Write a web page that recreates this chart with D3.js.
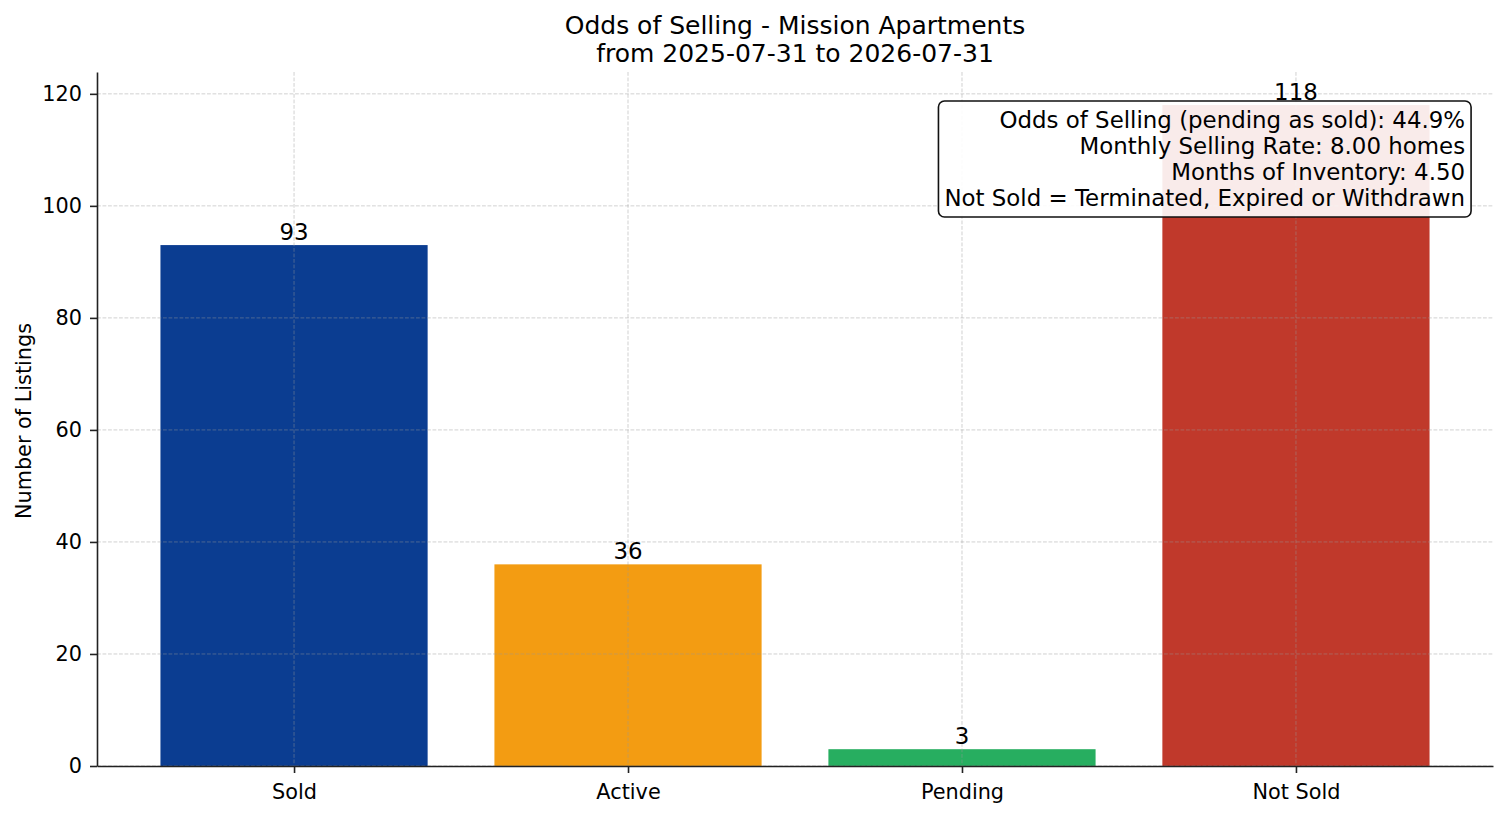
<!DOCTYPE html>
<html>
<head>
<meta charset="utf-8">
<script src="https://cdn.jsdelivr.net/npm/d3@7"></script>
<style>
  body { margin: 0; background: #fff; }
  svg { display: block; font-family: "DejaVu Sans", sans-serif; }
</style>
</head>
<body>
<svg></svg>
<script>
// chart data
var categories = ["Sold", "Active", "Pending", "Not Sold"];
var counts = [93, 36, 3, 118];
var barColors = ["#0b3d91", "#f39c12", "#27ae60", "#c0392b"];
var yTicks = [0, 20, 40, 60, 80, 100, 120];
var titleLines = ["Odds of Selling - Mission Apartments", "from 2025-07-31 to 2026-07-31"];
var infoLines = [
  "Odds of Selling (pending as sold): 44.9%",
  "Monthly Selling Rate: 8.00 homes",
  "Months of Inventory: 4.50",
  "Not Sold = Terminated, Expired or Withdrawn"
];

var width = 1507, height = 816;
var margin = {top: 72, right: 14, bottom: 50, left: 97};
var graphWidth = width - margin.left - margin.right;
var graphHeight = height - margin.top - margin.bottom;

var svg = d3.select("svg")
  .attr("width", width)
  .attr("height", height);

var graph = svg.append("g")
  .attr("transform", "translate(" + margin.left + "," + margin.top + ")");

// bars sit at 0..n-1, width 0.8, plus 5% margins like matplotlib
var x = d3.scaleLinear()
  .domain([-0.4 - 0.19, categories.length - 1 + 0.4 + 0.19])
  .range([0, graphWidth]);

var y = d3.scaleLinear()
  .domain([0, d3.max(counts) * 1.05])
  .range([graphHeight, 0]);

// bars
graph.selectAll("rect.bar")
  .data(counts)
  .enter()
  .append("rect")
  .attr("class", "bar")
  .attr("x", (d, i) => x(i - 0.4))
  .attr("width", (d, i) => x(i + 0.4) - x(i - 0.4))
  .attr("y", d => y(d))
  .attr("height", d => graphHeight - y(d))
  .attr("fill", (d, i) => barColors[i]);

// grid on top of bars
var grid = graph.append("g")
  .attr("stroke", "#999")
  .attr("stroke-opacity", 0.45)
  .attr("stroke-width", 1)
  .attr("stroke-dasharray", "3.8,1.7");

grid.selectAll("line.h")
  .data(yTicks)
  .enter()
  .append("line")
  .attr("x1", 0)
  .attr("x2", graphWidth)
  .attr("y1", d => y(d))
  .attr("y2", d => y(d));

grid.selectAll("line.v")
  .data(categories)
  .enter()
  .append("line")
  .attr("x1", (d, i) => x(i))
  .attr("x2", (d, i) => x(i))
  .attr("y1", 0)
  .attr("y2", graphHeight);

// value labels
graph.selectAll("text.val")
  .data(counts)
  .enter()
  .append("text")
  .attr("class", "val")
  .attr("x", (d, i) => x(i))
  .attr("y", d => y(d) - 5)
  .attr("text-anchor", "middle")
  .attr("font-size", 22.9)
  .attr("fill", "#000")
  .text(d => d);

// axes
var xAxis = d3.axisBottom(x)
  .tickValues(d3.range(categories.length))
  .tickFormat(i => categories[i])
  .tickSize(7)
  .tickSizeOuter(0)
  .tickPadding(11);

var yAxis = d3.axisLeft(y)
  .tickValues(yTicks)
  .tickSize(7)
  .tickSizeOuter(0)
  .tickPadding(8);

var xAxisGroup = graph.append("g")
  .attr("transform", `translate(0, ${graphHeight})`)
  .call(xAxis);
var yAxisGroup = graph.append("g")
  .call(yAxis);

[xAxisGroup, yAxisGroup].forEach(g => {
  g.attr("font-family", null).attr("font-size", null);
  g.select(".domain").attr("stroke", "#222").attr("stroke-width", 1.6);
  g.selectAll(".tick line").attr("stroke", "#222").attr("stroke-width", 1.6);
  g.selectAll(".tick text").attr("fill", "#000").style("font-size", "20.8px");
});

// y axis label
svg.append("text")
  .attr("transform", "translate(24," + (margin.top + graphHeight / 2 + 2) + ") rotate(-90)")
  .attr("text-anchor", "middle")
  .attr("dominant-baseline", "central")
  .attr("font-size", 20.8)
  .attr("fill", "#000")
  .text("Number of Listings");

// title
svg.append("text")
  .attr("text-anchor", "middle")
  .attr("font-size", 25)
  .attr("fill", "#000")
  .selectAll("tspan")
  .data(titleLines)
  .enter()
  .append("tspan")
  .attr("x", margin.left + graphWidth / 2)
  .attr("y", (d, i) => 34 + i * 28)
  .text(d => d);

// info box, top right
var infoG = graph.append("g");
var infoText = infoG.append("text")
  .attr("text-anchor", "end")
  .attr("font-size", 22.9)
  .attr("fill", "#000");
infoText.selectAll("tspan")
  .data(infoLines)
  .enter()
  .append("tspan")
  .attr("x", graphWidth * 0.98)
  .attr("y", (d, i) => graphHeight * 0.05 + 21.3 + i * 26)
  .text(d => d);

var bb = infoText.node().getBBox();
var pad = 6;
infoG.insert("rect", "text")
  .attr("x", bb.x - pad)
  .attr("y", bb.y - pad)
  .attr("width", bb.width + pad * 2)
  .attr("height", bb.height + pad * 2)
  .attr("rx", 6)
  .attr("ry", 6)
  .attr("fill", "#fff")
  .attr("fill-opacity", 0.9)
  .attr("stroke", "#111")
  .attr("stroke-width", 1.6);
</script>
</body>
</html>
